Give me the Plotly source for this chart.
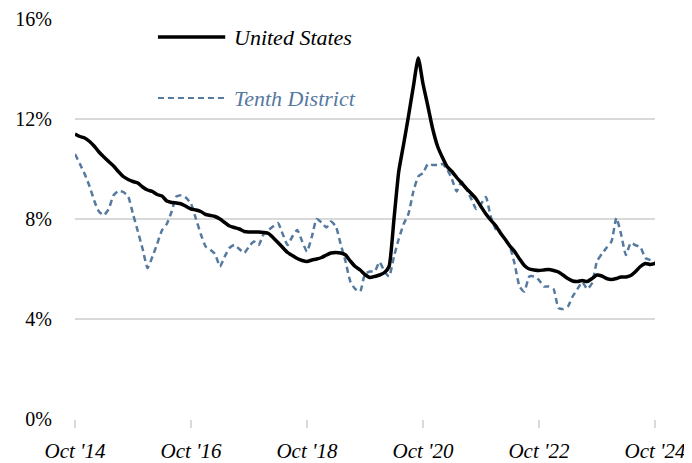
import pandas as pd
import plotly.graph_objects as go

months = pd.date_range("2014-10-01", "2024-10-01", freq="MS")

united_states = [
    11.4, 11.3, 11.24, 11.1, 10.9, 10.68, 10.48, 10.3, 10.12, 9.9,
    9.7, 9.58, 9.5, 9.44, 9.28, 9.16, 9.1, 8.98, 8.92, 8.72,
    8.66, 8.64, 8.6, 8.5, 8.4, 8.36, 8.3, 8.18, 8.14, 8.1,
    8.0, 7.86, 7.72, 7.66, 7.6, 7.5, 7.48, 7.48, 7.48, 7.46,
    7.42, 7.26, 7.06, 6.86, 6.66, 6.54, 6.42, 6.34, 6.3, 6.36,
    6.4, 6.46, 6.56, 6.64, 6.66, 6.64, 6.56, 6.32, 6.1, 5.96,
    5.78, 5.66, 5.7, 5.76, 5.86, 6.1, 8.0, 9.9, 11.0, 12.1,
    13.3, 14.44, 13.4, 12.5, 11.6, 10.9, 10.45, 10.1, 9.9, 9.66,
    9.44, 9.22, 9.02, 8.8, 8.5, 8.2, 7.96, 7.74, 7.44, 7.2,
    6.92, 6.7, 6.4, 6.14, 6.0, 5.96, 5.94, 5.96, 5.98, 5.94,
    5.88, 5.76, 5.62, 5.52, 5.5, 5.54, 5.5, 5.62, 5.76, 5.72,
    5.62, 5.58, 5.62, 5.68, 5.68, 5.74, 5.9, 6.1, 6.22, 6.18,
    6.22,
]

tenth_district = [
    10.6, 10.2, 9.8, 9.3, 8.7, 8.3, 8.15, 8.4, 8.95, 9.12,
    9.08, 8.9, 8.2, 7.5, 6.8, 6.04, 6.5, 7.0, 7.55, 7.8,
    8.3, 8.9, 8.95, 8.84, 8.6, 8.0, 7.4, 6.9, 6.76, 6.6,
    6.1, 6.5, 6.85, 6.96, 6.8, 6.64, 6.9, 7.1, 6.96, 7.4,
    7.56, 7.7, 7.84, 7.4, 6.96, 7.3, 7.56, 7.1, 6.7, 7.3,
    8.0, 7.86, 7.66, 7.9, 7.7, 7.0, 6.3, 5.5, 5.2, 5.1,
    5.8, 5.9, 5.9, 6.28, 5.9, 5.7, 6.5, 7.2, 7.8, 8.2,
    9.1, 9.7, 9.84, 10.2, 10.16, 10.16, 10.2, 10.0, 9.6, 9.1,
    9.5, 9.2, 8.8, 8.4, 8.6, 8.88, 8.1, 7.6, 7.4, 7.2,
    6.9, 6.2, 5.3, 5.1, 5.7, 5.7, 5.56, 5.3, 5.3, 5.2,
    4.44, 4.4, 4.5, 4.9, 5.2, 5.48, 5.2, 5.44, 6.3, 6.6,
    6.85, 7.1, 8.04, 7.4, 6.56, 7.04, 6.95, 6.88, 6.44, 6.36,
    6.28,
]

tick_dates = ["2014-10-01", "2016-10-01", "2018-10-01", "2020-10-01", "2022-10-01", "2024-10-01"]
tick_labels = ["Oct '14", "Oct '16", "Oct '18", "Oct '20", "Oct '22", "Oct '24"]
y_ticks = [0, 4, 8, 12, 16]
y_labels = ["0%", "4%", "8%", "12%", "16%"]

series_names = ["United States", "Tenth District"]
US_COLOR = "#000000"
TD_COLOR = "#55799f"
FONT = "Liberation Serif"

fig = go.Figure()
fig.add_trace(go.Scatter(
    x=months, y=tenth_district, mode="lines", name=series_names[1],
    line=dict(color=TD_COLOR, width=2.5, dash="6px,4px", shape="spline", smoothing=0.5),
    cliponaxis=False, showlegend=False,
))
fig.add_trace(go.Scatter(
    x=months, y=united_states, mode="lines", name=series_names[0],
    line=dict(color=US_COLOR, width=3.5, shape="spline", smoothing=0.5),
    cliponaxis=False, showlegend=False,
))

# custom legend (drawn in paper coordinates)
legend_items = [
    (series_names[0], US_COLOR, "solid", 3.5, 0.955),
    (series_names[1], TD_COLOR, "6px,4px", 2.0, 0.8025),
]
for name, color, dash, width, yp in legend_items:
    fig.add_shape(type="line", xref="paper", yref="paper",
                  x0=0.143, x1=0.259, y0=yp, y1=yp,
                  line=dict(color=color, width=width, dash=dash))
    fig.add_annotation(xref="paper", yref="paper", x=0.271, y=yp,
                       text=f"<i>{name}</i>", showarrow=False,
                       xanchor="left", yanchor="middle",
                       font=dict(family=FONT, size=22, color=color))

# the page places the figure 8px in from the top-left corner
fig.update_layout(
    width=684, height=455,
    margin=dict(l=67, r=37, t=11, b=44),
    paper_bgcolor="white", plot_bgcolor="white",
    font=dict(family=FONT, size=20, color="#000000"),
    showlegend=False,
)
fig.update_xaxes(
    type="date",
    range=["2014-10-01", "2024-10-01"],
    tickvals=tick_dates,
    ticktext=[f"<i>{t}</i>" for t in tick_labels],
    tickfont=dict(family=FONT, size=21),
    ticks="outside", ticklen=8, tickwidth=1.5, tickcolor="#d9d9d9",
    ticklabelstandoff=5, automargin=False,
    showgrid=False, showline=False, zeroline=False,
)
fig.update_yaxes(
    range=[0, 16],
    tickvals=y_ticks, ticktext=y_labels,
    tickfont=dict(family=FONT, size=20),
    showgrid=True, gridcolor="#d9d9d9", gridwidth=1.5,
    zeroline=False, showline=False, automargin=False,
    ticks="", ticklabelstandoff=22,
)

fig.write_html("out.html")
